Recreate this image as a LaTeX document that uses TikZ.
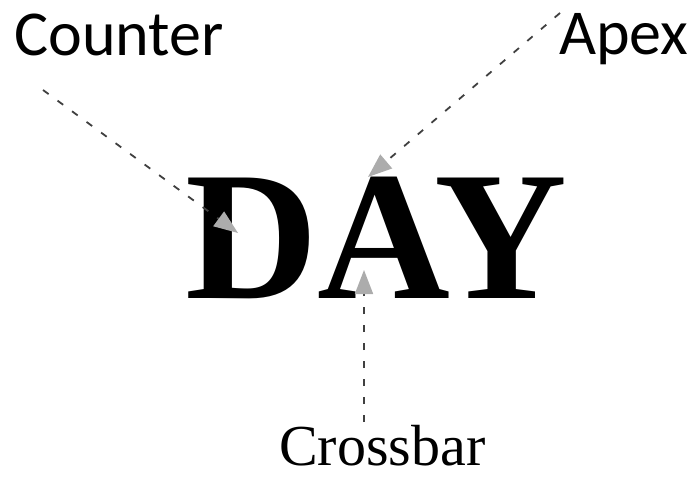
\documentclass[tikz,border=0pt]{standalone}
\usepackage{fontspec}
\usetikzlibrary{arrows.meta}
\newfontfamily\carl{Carlito}
\newfontfamily\lserif{Liberation Serif}
\tikzset{
  lbl/.style={inner sep=0pt, font=\carl\fontsize{64}{70}\selectfont},
  pointer/.style={draw=black!75, line width=1.8pt, dash pattern=on 7pt off 11pt,
    -{Triangle[length=24pt,width=18pt,color=gray!65,fill=gray!65]}}
}
\begin{document}
\begin{tikzpicture}[x=1pt,y=1pt]
\useasboundingbox (0,0) rectangle (696,480);
\node[inner sep=0pt, anchor=base, font=\lserif\bfseries\fontsize{184}{190}\selectfont] (day) at (376,182) {DAY};
\node[lbl, anchor=base west] (counter) at (14,424) {Counter};
\node[lbl, anchor=base west] (apex) at (559,425) {Apex};
\node[inner sep=0pt, anchor=base west, font=\lserif\fontsize{58}{64}\selectfont] (crossbar) at (279,15) {Crossbar};
\coordinate (cs) at (43,390);
\coordinate (ct) at (238,247);
\coordinate (as) at (560,467);
\coordinate (at) at (368,303);
\coordinate (xs) at (364,58);
\coordinate (xt) at (364,210);
\draw[pointer] (cs) -- (ct);
\draw[pointer] (as) -- (at);
\draw[pointer] (xs) -- (xt);
\end{tikzpicture}
\end{document}
